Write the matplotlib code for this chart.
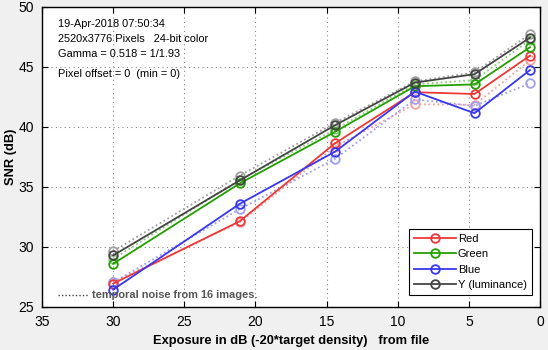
import matplotlib
matplotlib.use("Agg")
import matplotlib.pyplot as plt
from matplotlib.lines import Line2D

plt.rcParams['font.family'] = ['Liberation Sans', 'DejaVu Sans']

# Exposure levels (dB) and SNR (dB) per channel
exposure = [30.0, 21.1, 14.4, 8.8, 4.6, 0.7]

snr_red = [26.95, 32.15, 38.65, 42.9, 42.75, 45.95]
snr_green = [28.6, 35.3, 39.6, 43.4, 43.55, 46.65]
snr_blue = [26.45, 33.6, 37.95, 42.95, 41.15, 44.75]
snr_lum = [29.3, 35.55, 40.15, 43.7, 44.4, 47.45]

# Temporal noise from 16 images
tn_red = [27.1, 32.05, 38.35, 41.9, 41.85, 45.55]
tn_green = [29.0, 35.6, 39.8, 43.55, 43.9, 47.25]
tn_blue = [27.05, 33.15, 37.35, 42.3, 41.75, 43.65]
tn_lum = [29.65, 35.95, 40.35, 43.8, 44.55, 47.75]

series = [
    ("Red", snr_red, tn_red, "#ee3838", "#f5a0a0"),
    ("Green", snr_green, tn_green, "#22a000", "#90cc80"),
    ("Blue", snr_blue, tn_blue, "#3737ee", "#a0a0f2"),
    ("Y (luminance)", snr_lum, tn_lum, "#444444", "#a0a0a0"),
]

info_lines = [
    "19-Apr-2018 07:50:34",
    "2520x3776 Pixels   24-bit color",
    "Gamma = 0.518 = 1/1.93",
    "Pixel offset = 0  (min = 0)",
]

fig = plt.figure(figsize=(5.48, 3.5), dpi=100, facecolor="#f0f0f0")
ax = fig.add_axes([42 / 548, 1 - 307 / 350, 498 / 548, 300 / 350])
ax.set_facecolor("white")

handles = []
for name, solid, dotted, col, light in series:
    ax.plot(exposure, dotted, linestyle=(0, (1, 1.5)), color=light, lw=1.3,
            marker="o", mfc="none", mec=light, ms=6.2, mew=1.3, zorder=2)
for name, solid, dotted, col, light in series:
    h, = ax.plot(exposure, solid, "-", color=col, lw=1.3, marker="o",
                 mfc="none", mec=col, ms=6.2, mew=1.3, label=name, zorder=3)
    handles.append(h)

ax.set_xlim(35, 0)
ax.set_ylim(25, 50)
ax.set_xticks([35, 30, 25, 20, 15, 10, 5, 0])
ax.set_yticks([25, 30, 35, 40, 45, 50])
ax.grid(True, linestyle=(0, (1, 3)), color="#888888", lw=0.8)
ax.tick_params(direction="in", length=4, labelsize=10, top=True, right=True,
               pad=6)
for s in ax.spines.values():
    s.set_linewidth(1.0)

ax.set_xlabel("Exposure in dB (-20*target density)   from file",
              fontsize=9.3, fontweight="bold", labelpad=4)
ax.set_ylabel("SNR (dB)", fontsize=9.3, fontweight="bold", labelpad=1)

for i, t in enumerate(info_lines):
    y = [24, 39, 54, 74][i]
    fig.text(58 / 548, 1 - y / 350, t, fontsize=7.9, va="center", ha="left")

# Temporal noise key
fig.add_artist(Line2D([58 / 548, 88 / 548], [1 - 295 / 350] * 2,
                      transform=fig.transFigure, color="#444444", lw=1,
                      linestyle=(0, (1, 1.5))))
fig.text(92 / 548, 1 - 295 / 350, "temporal noise from 16 images.",
         fontsize=7.9, fontweight="bold", color="#555555", va="center")

leg = ax.legend(handles=handles, loc="upper left",
                bbox_to_anchor=(409 / 548, 1 - 229 / 350),
                bbox_transform=fig.transFigure, fontsize=8, frameon=True,
                fancybox=False, edgecolor="black", framealpha=1,
                handlelength=3.8, borderpad=0.45, labelspacing=0.48,
                handletextpad=0.15, borderaxespad=0)
leg.get_frame().set_linewidth(0.8)

fig.savefig("out.png", dpi=100, facecolor=fig.get_facecolor())
